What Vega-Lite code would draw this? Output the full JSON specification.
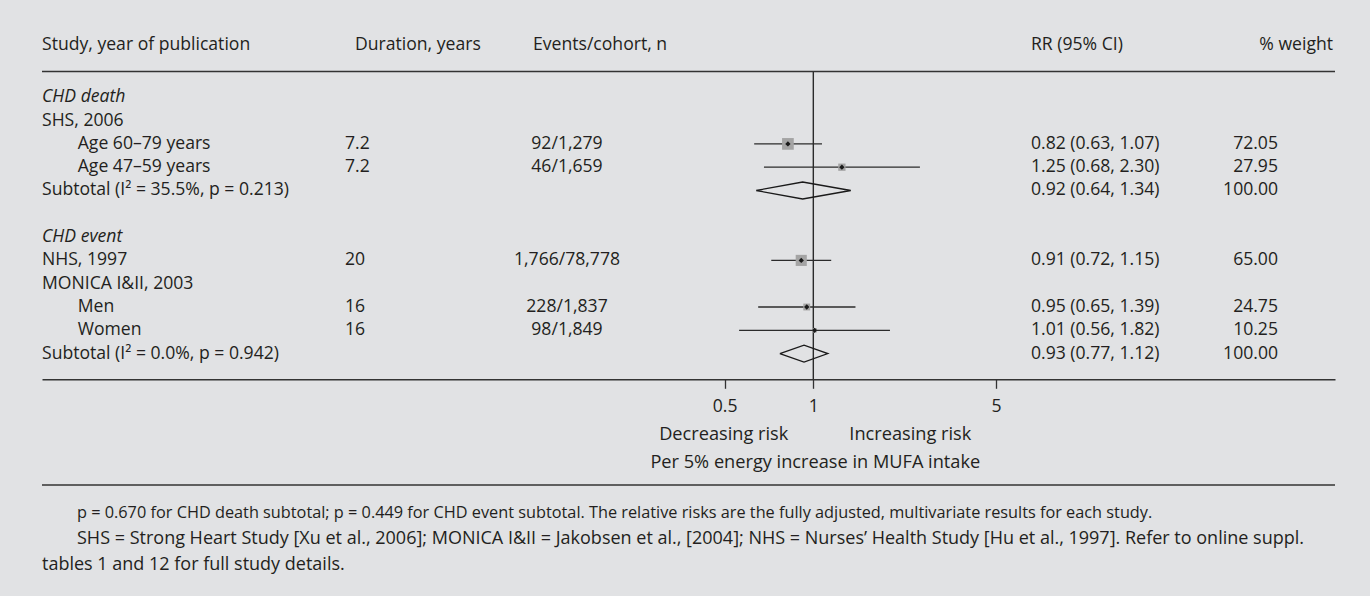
{
"$schema": "https://vega.github.io/schema/vega-lite/v6.json",
"autosize": "none",
"width": 1293,
"height": 307.8,
"padding": {"left": 42, "top": 71.5, "right": 35, "bottom": 216.7},
"background": "#e1e2e4",
"config": {"view": {"stroke": null}, "font": "Open Sans", "text": {"fontSize": 17.6, "color": "#231f20", "baseline": "middle", "font": "Open Sans"}},
"datasets": {
 "rows": [
  {"row": 0, "kind": "group", "study": "CHD death"},
  {"row": 1, "kind": "study", "study": "SHS, 2006"},
  {"row": 2, "kind": "sub", "study": "Age 60–79 years", "duration": 7.2, "events": "92/1,279", "rr": 0.82, "lo": 0.63, "hi": 1.07, "ci": "0.82 (0.63, 1.07)", "weight": 72.05},
  {"row": 3, "kind": "sub", "study": "Age 47–59 years", "duration": 7.2, "events": "46/1,659", "rr": 1.25, "lo": 0.68, "hi": 2.30, "ci": "1.25 (0.68, 2.30)", "weight": 27.95},
  {"row": 4, "kind": "subtotal", "study": "Subtotal (I² = 35.5%, p = 0.213)", "rr": 0.92, "lo": 0.64, "hi": 1.34, "ci": "0.92 (0.64, 1.34)", "weight": 100},
  {"row": 6, "kind": "group", "study": "CHD event"},
  {"row": 7, "kind": "study", "study": "NHS, 1997", "duration": 20, "events": "1,766/78,778", "rr": 0.91, "lo": 0.72, "hi": 1.15, "ci": "0.91 (0.72, 1.15)", "weight": 65.00},
  {"row": 8, "kind": "study", "study": "MONICA I&II, 2003"},
  {"row": 9, "kind": "sub", "study": "Men", "duration": 16, "events": "228/1,837", "rr": 0.95, "lo": 0.65, "hi": 1.39, "ci": "0.95 (0.65, 1.39)", "weight": 24.75},
  {"row": 10, "kind": "sub", "study": "Women", "duration": 16, "events": "98/1,849", "rr": 1.01, "lo": 0.56, "hi": 1.82, "ci": "1.01 (0.56, 1.82)", "weight": 10.25},
  {"row": 11, "kind": "subtotal", "study": "Subtotal (I² = 0.0%, p = 0.942)", "rr": 0.93, "lo": 0.77, "hi": 1.12, "ci": "0.93 (0.77, 1.12)", "weight": 100}
 ],
 "diamonds": [
  {"sub": 1, "v": 0, "x": 0.64, "side": 0},
  {"sub": 1, "v": 1, "x": 0.92, "side": -1},
  {"sub": 1, "v": 2, "x": 1.34, "side": 0},
  {"sub": 1, "v": 3, "x": 0.92, "side": 1},
  {"sub": 1, "v": 4, "x": 0.64, "side": 0},
  {"sub": 2, "v": 0, "x": 0.77, "side": 0},
  {"sub": 2, "v": 1, "x": 0.93, "side": -1},
  {"sub": 2, "v": 2, "x": 1.12, "side": 0},
  {"sub": 2, "v": 3, "x": 0.93, "side": 1},
  {"sub": 2, "v": 4, "x": 0.77, "side": 0}
 ]
},
"resolve": {"scale": {"x": "independent"}},
"layer": [
 {"data": {"values": [{"ref": 1}]},
  "mark": {"type": "rule", "color": "#2b2b2b", "strokeWidth": 1.4},
  "encoding": {
   "x": {"field": "ref", "type": "quantitative", "scale": {"type": "log", "domain": [0.002414, 58.91], "nice": false}, "axis": {"orient": "bottom", "values": [0.5, 1, 4.167], "labelExpr": "datum.value > 4 ? '5' : (datum.value < 0.7 ? '0.5' : '1')", "title": null, "grid": false, "domain": true, "domainColor": "#333333", "domainWidth": 1.5, "ticks": true, "tickColor": "#333333", "tickWidth": 1.3, "tickSize": 9, "labels": true, "labelFont": "Open Sans", "labelFontSize": 17.6, "labelColor": "#231f20", "labelPadding": 9, "labelFlush": false, "labelOverlap": false}}}},
 {"data": {"name": "rows"}, "transform": [{"filter": "datum.kind == 'study' || datum.kind == 'subtotal'"}],
  "mark": {"type": "text", "align": "left"},
  "encoding": {
   "x": {"datum": "Study", "type": "nominal", "scale": {"type": "point", "domain": ["Study", "Duration", "Events", "RR", "Weight"], "padding": 0}, "axis": null},
   "y": {"field": "row", "type": "quantitative", "scale": {"domain": [-1.107, 12.103], "reverse": true, "nice": false, "zero": false}, "axis": null},
   "text": {"field": "study", "type": "nominal"}}},
 {"data": {"name": "rows"}, "transform": [{"filter": "datum.kind == 'group'"}],
  "mark": {"type": "text", "align": "left", "fontStyle": "italic"},
  "encoding": {
   "x": {"datum": "Study", "type": "nominal", "scale": {"type": "point", "domain": ["Study", "Duration", "Events", "RR", "Weight"], "padding": 0}, "axis": null},
   "y": {"field": "row", "type": "quantitative", "scale": {"domain": [-1.107, 12.103], "reverse": true, "nice": false, "zero": false}, "axis": null},
   "text": {"field": "study", "type": "nominal"}}},
 {"data": {"name": "rows"}, "transform": [{"filter": "datum.kind == 'sub'"}],
  "mark": {"type": "text", "align": "left", "dx": 35.7},
  "encoding": {
   "x": {"datum": "Study", "type": "nominal", "scale": {"type": "point", "domain": ["Study", "Duration", "Events", "RR", "Weight"], "padding": 0}, "axis": null},
   "y": {"field": "row", "type": "quantitative", "scale": {"domain": [-1.107, 12.103], "reverse": true, "nice": false, "zero": false}, "axis": null},
   "text": {"field": "study", "type": "nominal"}}},
 {"data": {"name": "rows"}, "transform": [{"filter": "isValid(datum.duration)"}],
  "mark": {"type": "text", "align": "left", "dx": -20.25},
  "encoding": {
   "x": {"datum": "Duration", "type": "nominal", "scale": {"type": "point", "domain": ["Study", "Duration", "Events", "RR", "Weight"], "padding": 0}, "axis": null},
   "y": {"field": "row", "type": "quantitative", "scale": {"domain": [-1.107, 12.103], "reverse": true, "nice": false, "zero": false}, "axis": null},
   "text": {"field": "duration", "type": "nominal"}}},
 {"data": {"name": "rows"}, "transform": [{"filter": "isValid(datum.events)"}],
  "mark": {"type": "text", "align": "center", "dx": -121.5},
  "encoding": {
   "x": {"datum": "Events", "type": "nominal", "scale": {"type": "point", "domain": ["Study", "Duration", "Events", "RR", "Weight"], "padding": 0}, "axis": null},
   "y": {"field": "row", "type": "quantitative", "scale": {"domain": [-1.107, 12.103], "reverse": true, "nice": false, "zero": false}, "axis": null},
   "text": {"field": "events", "type": "nominal"}}},
 {"data": {"name": "rows"}, "transform": [{"filter": "isValid(datum.ci)"}],
  "mark": {"type": "text", "align": "left", "dx": 19.25},
  "encoding": {
   "x": {"datum": "RR", "type": "nominal", "scale": {"type": "point", "domain": ["Study", "Duration", "Events", "RR", "Weight"], "padding": 0}, "axis": null},
   "y": {"field": "row", "type": "quantitative", "scale": {"domain": [-1.107, 12.103], "reverse": true, "nice": false, "zero": false}, "axis": null},
   "text": {"field": "ci", "type": "nominal"}}},
 {"data": {"name": "rows"}, "transform": [{"filter": "isValid(datum.weight)"}],
  "mark": {"type": "text", "align": "right", "dx": -57},
  "encoding": {
   "x": {"datum": "Weight", "type": "nominal", "scale": {"type": "point", "domain": ["Study", "Duration", "Events", "RR", "Weight"], "padding": 0}, "axis": null},
   "y": {"field": "row", "type": "quantitative", "scale": {"domain": [-1.107, 12.103], "reverse": true, "nice": false, "zero": false}, "axis": null},
   "text": {"field": "weight", "type": "quantitative", "format": ".2f"}}},
 {"data": {"values": [{"label": "Study, year of publication"}]},
  "mark": {"type": "text", "align": "left"},
  "encoding": {
   "x": {"datum": "Study", "type": "nominal", "scale": {"type": "point", "domain": ["Study", "Duration", "Events", "RR", "Weight"], "padding": 0}, "axis": null},
   "y": {"datum": -2.249, "type": "quantitative", "scale": {"domain": [-1.107, 12.103], "reverse": true, "nice": false, "zero": false}, "axis": null},
   "text": {"field": "label", "type": "nominal"}}},
 {"data": {"values": [{"label": "Duration, years"}]},
  "mark": {"type": "text", "align": "left", "dx": -10.25},
  "encoding": {
   "x": {"datum": "Duration", "type": "nominal", "scale": {"type": "point", "domain": ["Study", "Duration", "Events", "RR", "Weight"], "padding": 0}, "axis": null},
   "y": {"datum": -2.249, "type": "quantitative", "scale": {"domain": [-1.107, 12.103], "reverse": true, "nice": false, "zero": false}, "axis": null},
   "text": {"field": "label", "type": "nominal"}}},
 {"data": {"values": [{"label": "Events/cohort, n"}]},
  "mark": {"type": "text", "align": "left", "dx": -155.5},
  "encoding": {
   "x": {"datum": "Events", "type": "nominal", "scale": {"type": "point", "domain": ["Study", "Duration", "Events", "RR", "Weight"], "padding": 0}, "axis": null},
   "y": {"datum": -2.249, "type": "quantitative", "scale": {"domain": [-1.107, 12.103], "reverse": true, "nice": false, "zero": false}, "axis": null},
   "text": {"field": "label", "type": "nominal"}}},
 {"data": {"values": [{"label": "RR (95% CI)"}]},
  "mark": {"type": "text", "align": "left", "dx": 19.25},
  "encoding": {
   "x": {"datum": "RR", "type": "nominal", "scale": {"type": "point", "domain": ["Study", "Duration", "Events", "RR", "Weight"], "padding": 0}, "axis": null},
   "y": {"datum": -2.249, "type": "quantitative", "scale": {"domain": [-1.107, 12.103], "reverse": true, "nice": false, "zero": false}, "axis": null},
   "text": {"field": "label", "type": "nominal"}}},
 {"data": {"values": [{"label": "% weight"}]},
  "mark": {"type": "text", "align": "right", "dx": -2},
  "encoding": {
   "x": {"datum": "Weight", "type": "nominal", "scale": {"type": "point", "domain": ["Study", "Duration", "Events", "RR", "Weight"], "padding": 0}, "axis": null},
   "y": {"datum": -2.249, "type": "quantitative", "scale": {"domain": [-1.107, 12.103], "reverse": true, "nice": false, "zero": false}, "axis": null},
   "text": {"field": "label", "type": "nominal"}}},
 {"data": {"values": [{"note": "p = 0.670 for CHD death subtotal; p = 0.449 for CHD event subtotal. The relative risks are the fully adjusted, multivariate results for each study."}]},
  "mark": {"type": "text", "align": "left", "dx": 35, "fontSize": 16.3},
  "encoding": {
   "x": {"datum": "Study", "type": "nominal", "scale": {"type": "point", "domain": ["Study", "Duration", "Events", "RR", "Weight"], "padding": 0}, "axis": null},
   "y": {"datum": 17.83, "type": "quantitative", "scale": {"domain": [-1.107, 12.103], "reverse": true, "nice": false, "zero": false}, "axis": null},
   "text": {"field": "note", "type": "nominal"}}},
 {"data": {"values": [{"note": "SHS = Strong Heart Study [Xu et al., 2006]; MONICA I&II = Jakobsen et al., [2004]; NHS = Nurses’ Health Study [Hu et al., 1997]. Refer to online suppl."}]},
  "mark": {"type": "text", "align": "left", "dx": 35, "fontSize": 18},
  "encoding": {
   "x": {"datum": "Study", "type": "nominal", "scale": {"type": "point", "domain": ["Study", "Duration", "Events", "RR", "Weight"], "padding": 0}, "axis": null},
   "y": {"datum": 18.95, "type": "quantitative", "scale": {"domain": [-1.107, 12.103], "reverse": true, "nice": false, "zero": false}, "axis": null},
   "text": {"field": "note", "type": "nominal"}}},
 {"data": {"values": [{"note": "tables 1 and 12 for full study details."}]},
  "mark": {"type": "text", "align": "left", "fontSize": 18},
  "encoding": {
   "x": {"datum": "Study", "type": "nominal", "scale": {"type": "point", "domain": ["Study", "Duration", "Events", "RR", "Weight"], "padding": 0}, "axis": null},
   "y": {"datum": 20.06, "type": "quantitative", "scale": {"domain": [-1.107, 12.103], "reverse": true, "nice": false, "zero": false}, "axis": null},
   "text": {"field": "note", "type": "nominal"}}},
 {"data": {"values": [{"line": "top"}]},
  "mark": {"type": "rule", "color": "#333333", "strokeWidth": 1.5},
  "encoding": {
   "y": {"datum": -1.107, "type": "quantitative", "scale": {"domain": [-1.107, 12.103], "reverse": true, "nice": false, "zero": false}, "axis": null}}},
 {"data": {"values": [{"line": "bottom"}]},
  "mark": {"type": "rule", "color": "#333333", "strokeWidth": 1.5},
  "encoding": {
   "y": {"datum": 16.64, "type": "quantitative", "scale": {"domain": [-1.107, 12.103], "reverse": true, "nice": false, "zero": false}, "axis": null}}},
 {"data": {"name": "rows"}, "transform": [{"filter": "datum.kind != 'subtotal' && isValid(datum.rr)"}],
  "mark": {"type": "rule", "color": "#2b2b2b", "strokeWidth": 1.3},
  "encoding": {
   "x": {"field": "lo", "type": "quantitative", "scale": {"type": "log", "domain": [0.002414, 58.91], "nice": false}, "axis": null},
   "x2": {"field": "hi"},
   "y": {"field": "row", "type": "quantitative", "scale": {"domain": [-1.107, 12.103], "reverse": true, "nice": false, "zero": false}, "axis": null}}},
 {"data": {"name": "rows"}, "transform": [{"filter": "datum.kind != 'subtotal' && isValid(datum.rr)"}],
  "mark": {"type": "point", "shape": "square", "filled": true, "color": "#a4a4a4", "opacity": 1},
  "encoding": {
   "x": {"field": "rr", "type": "quantitative", "scale": {"type": "log", "domain": [0.002414, 58.91], "nice": false}, "axis": null},
   "y": {"field": "row", "type": "quantitative", "scale": {"domain": [-1.107, 12.103], "reverse": true, "nice": false, "zero": false}, "axis": null},
   "size": {"field": "weight", "type": "quantitative", "scale": {"domain": [0, 100], "range": [0, 190]}, "legend": null}}},
 {"data": {"name": "rows"}, "transform": [{"filter": "datum.kind != 'subtotal' && isValid(datum.rr)"}],
  "mark": {"type": "point", "shape": "diamond", "filled": true, "color": "#1a1a1a", "opacity": 1, "size": 28},
  "encoding": {
   "x": {"field": "rr", "type": "quantitative", "scale": {"type": "log", "domain": [0.002414, 58.91], "nice": false}, "axis": null},
   "y": {"field": "row", "type": "quantitative", "scale": {"domain": [-1.107, 12.103], "reverse": true, "nice": false, "zero": false}, "axis": null}}},
 {"data": {"name": "diamonds"}, "transform": [{"filter": "datum.sub == 1"}],
  "mark": {"type": "line", "color": "#1a1a1a", "strokeWidth": 1.3},
  "encoding": {
   "x": {"field": "x", "type": "quantitative", "scale": {"type": "log", "domain": [0.002414, 58.91], "nice": false}, "axis": null},
   "y": {"datum": 4, "type": "quantitative", "scale": {"domain": [-1.107, 12.103], "reverse": true, "nice": false, "zero": false}, "axis": null},
   "yOffset": {"field": "side", "type": "quantitative", "scale": {"domain": [-1, 1], "range": [-8.5, 8.5]}},
   "order": {"field": "v", "type": "quantitative"}}},
 {"data": {"name": "diamonds"}, "transform": [{"filter": "datum.sub == 2"}],
  "mark": {"type": "line", "color": "#1a1a1a", "strokeWidth": 1.3},
  "encoding": {
   "x": {"field": "x", "type": "quantitative", "scale": {"type": "log", "domain": [0.002414, 58.91], "nice": false}, "axis": null},
   "y": {"datum": 11, "type": "quantitative", "scale": {"domain": [-1.107, 12.103], "reverse": true, "nice": false, "zero": false}, "axis": null},
   "yOffset": {"field": "side", "type": "quantitative", "scale": {"domain": [-1, 1], "range": [-8.5, 8.5]}},
   "order": {"field": "v", "type": "quantitative"}}},
 {"data": {"values": [{"label": "Decreasing risk", "ref": 1}]},
  "mark": {"type": "text", "align": "right", "dx": -25, "fontSize": 18.2},
  "encoding": {
   "x": {"field": "ref", "type": "quantitative", "scale": {"type": "log", "domain": [0.002414, 58.91], "nice": false}, "axis": null},
   "y": {"datum": 14.48, "type": "quantitative", "scale": {"domain": [-1.107, 12.103], "reverse": true, "nice": false, "zero": false}, "axis": null},
   "text": {"field": "label", "type": "nominal"}}},
 {"data": {"values": [{"label": "Increasing risk", "ref": 1}]},
  "mark": {"type": "text", "align": "left", "dx": 36, "fontSize": 18.2},
  "encoding": {
   "x": {"field": "ref", "type": "quantitative", "scale": {"type": "log", "domain": [0.002414, 58.91], "nice": false}, "axis": null},
   "y": {"datum": 14.48, "type": "quantitative", "scale": {"domain": [-1.107, 12.103], "reverse": true, "nice": false, "zero": false}, "axis": null},
   "text": {"field": "label", "type": "nominal"}}},
 {"data": {"values": [{"label": "Per 5% energy increase in MUFA intake", "ref": 1}]},
  "mark": {"type": "text", "align": "center", "dx": 2, "fontSize": 18.2},
  "encoding": {
   "x": {"field": "ref", "type": "quantitative", "scale": {"type": "log", "domain": [0.002414, 58.91], "nice": false}, "axis": null},
   "y": {"datum": 15.68, "type": "quantitative", "scale": {"domain": [-1.107, 12.103], "reverse": true, "nice": false, "zero": false}, "axis": null},
   "text": {"field": "label", "type": "nominal"}}}
]
}
